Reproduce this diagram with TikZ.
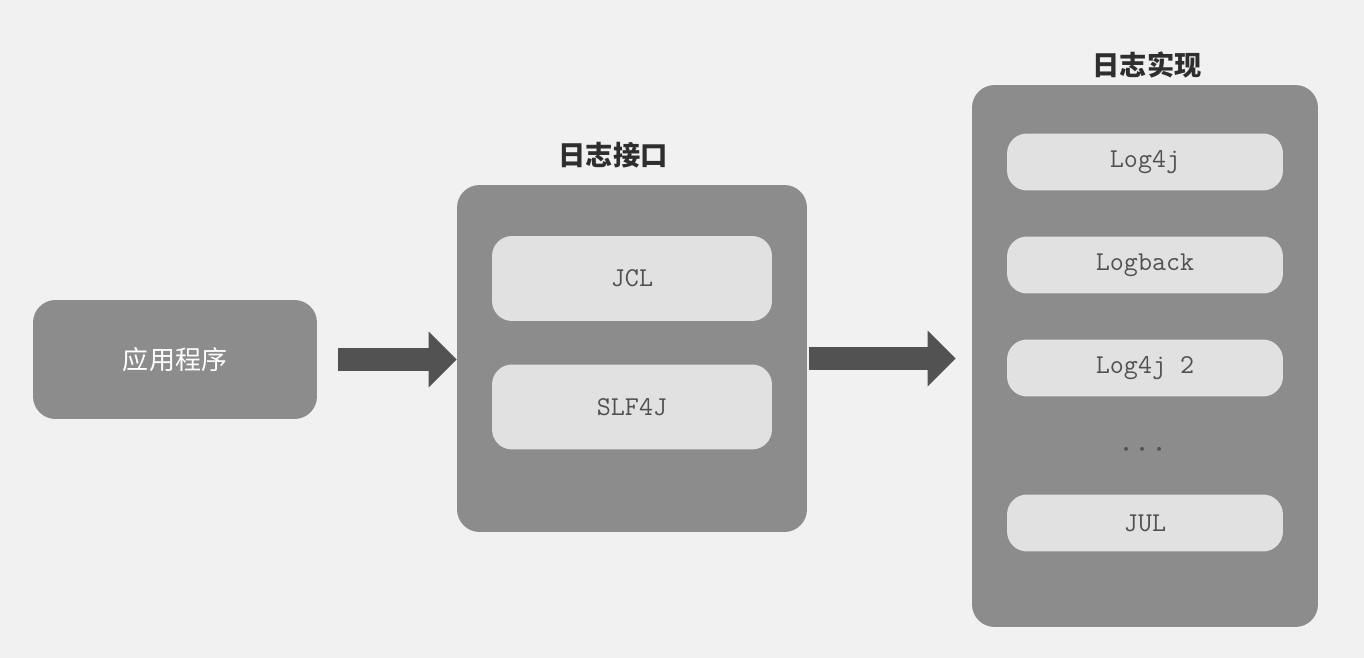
\documentclass[tikz,border=0pt]{standalone}
\usepackage{fontspec}
\newfontfamily\cjk{Noto Sans CJK SC}
\usetikzlibrary{arrows.meta}
\usetikzlibrary{positioning}

\definecolor{paper}{RGB}{241,241,241}
\definecolor{boxgray}{RGB}{140,140,140}
\definecolor{slotgray}{RGB}{225,225,225}
\definecolor{arrowgray}{RGB}{82,82,82}
\definecolor{labelgray}{RGB}{80,80,80}

\tikzset{
  outerbox/.style={fill=boxgray, rounded corners=0.45cm, inner sep=0pt},
  slot/.style={fill=slotgray, rounded corners=0.4cm, minimum width=5.6cm,
    minimum height=1.14cm, inner sep=0pt, text=labelgray,
    font=\fontsize{15.5}{18}\selectfont\ttfamily},
  headline/.style={text=black!82, font=\fontsize{15.5}{18}\selectfont\cjk\bfseries},
  fatarrow/.style={draw=arrowgray, line width=0.48cm,
    -{Triangle[width=1.08cm,length=0.56cm]}},
}

\begin{document}
\begin{tikzpicture}[x=0.02cm,y=-0.02cm]
  % page
  \fill[paper] (0,0) rectangle (1364,658);
  \useasboundingbox (0,0) rectangle (1364,658);
  % the three blocks
  \node[outerbox, minimum width=5.68cm, minimum height=2.38cm, text=white,
    font=\fontsize{14.8}{17}\selectfont\cjk] (app) at (175,359.5) {应用程序};
  \node[outerbox, minimum width=7cm, minimum height=6.94cm] (iface) at (632,358.5) {};
  \node[outerbox, minimum width=6.92cm, minimum height=10.84cm] (impl) at (1145,356) {};
  % titles
  \node[headline] (ifacetitle) at (613,155) {日志接口};
  \node[headline] (impltitle) at (1147,65) {日志实现};
  % interface slots
  \node[slot, minimum height=1.7cm] (jcl) at (632,278.5) {JCL};
  \node[slot, minimum height=1.7cm] (slf) at (632,407) {SLF4J};
  % implementation slots
  \foreach \y/\name/\txt in {162/log4j/Log4j, 265/logback/Logback, 368/logtwo/Log4j 2, 523/jul/JUL}
    \node[slot, minimum width=5.52cm] (\name) at (1145,\y) {\txt};
  \node[text=arrowgray, font=\fontsize{22}{22}\selectfont] (dots) at (1143,450)
    {$\mathord\cdot\,\mathord\cdot\,\mathord\cdot$};
  % arrows
  \draw[fatarrow, shorten <=0.42cm] (app.east) -- (app.east -| iface.west);
  \draw[fatarrow, shorten <=0.04cm, shorten >=0.32cm] (iface.east) -- (iface.east -| impl.west);
\end{tikzpicture}
\end{document}
